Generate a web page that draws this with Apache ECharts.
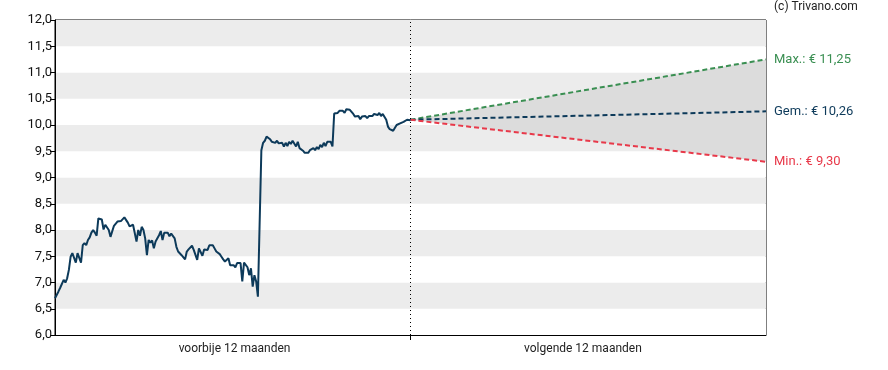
<!DOCTYPE html>
<html>
<head>
<meta charset="utf-8">
<script src="https://cdn.jsdelivr.net/npm/echarts@6/dist/echarts.min.js"></script>
<style>
html,body{margin:0;padding:0;background:#fff;}
#chart{width:888px;height:370px;}
</style>
</head>
<body>
<div id="chart"></div>
<script>
// ---- data ----
const periodLabels = ['voorbije 12 maanden', 'volgende 12 maanden'];
const pastPrices = [
  6.70, 6.73, 6.83, 6.90, 6.93, 7.05, 7.00, 7.08, 7.24, 7.49,
  7.56, 7.56, 7.38, 7.56, 7.55, 7.38, 7.71, 7.75, 7.71, 7.81,
  7.86, 7.95, 8.00, 7.95, 7.89, 8.22, 8.22, 8.20, 8.01, 8.10,
  8.07, 8.00, 7.87, 7.88, 8.08, 8.07, 8.16, 8.14, 8.17, 8.16,
  8.24, 8.25, 8.14, 8.07, 8.06, 8.10, 7.94, 7.78, 8.00, 7.89,
  8.06, 8.00, 7.84, 7.52, 7.81, 7.76, 7.80, 7.65, 7.78, 7.81,
  7.90, 7.98, 7.81, 7.95, 7.92, 7.95, 7.88, 7.93, 7.92, 7.84,
  7.68, 7.59, 7.62, 7.52, 7.49, 7.44, 7.59, 7.63, 7.61, 7.70,
  7.62, 7.59, 7.43, 7.65, 7.67, 7.51, 7.63, 7.65, 7.62, 7.71,
  7.68, 7.71, 7.65, 7.59, 7.61, 7.54, 7.49, 7.44, 7.40, 7.37,
  7.46, 7.33, 7.30, 7.33, 7.29, 7.37, 7.35, 7.37, 7.02, 7.38,
  7.40, 7.29, 7.14, 7.27, 6.92, 7.14, 7.02, 6.73, 6.70,
  9.52, 9.66, 9.70, 9.78, 9.77, 9.73, 9.68, 9.71, 9.66, 9.70,
  9.65, 9.62, 9.66, 9.59, 9.66, 9.60, 9.68, 9.64, 9.70, 9.68,
  9.59, 9.68, 9.56, 9.54, 9.51, 9.47, 9.45, 9.47, 9.52, 9.54,
  9.56, 9.52, 9.58, 9.54, 9.62, 9.58, 9.66, 9.60, 9.68, 9.65,
  9.68, 9.59,
  10.22, 10.25, 10.23, 10.27, 10.25, 10.27, 10.23, 10.30, 10.32, 10.29,
  10.30, 10.21, 10.16, 10.13, 10.17, 10.11, 10.16, 10.15, 10.17, 10.13,
  10.17, 10.19, 10.17, 10.21, 10.22, 10.19, 10.23, 10.17, 10.21, 10.19,
  10.10, 9.97, 9.92, 9.94, 9.89, 9.92, 10.00, 10.02, 10.03, 10.04,
  10.06, 10.08, 10.10, 10.09, 10.09
];
const forecastStart = 10.10;
const forecastMax = 11.25;
const forecastAvg = 10.26;
const forecastMin = 9.30;
const yTickMin = 6, yTickMax = 12, yTickStep = 0.5;

// ---- build ----
const fmt = v => v.toFixed(2).replace('.', ',');
const n = pastPrices.length;
const pastData = pastPrices.map((v, i) => [i / (n - 1), v]);
const lineTo = end => [[1, forecastStart], [2, end]];

const chart = echarts.init(document.getElementById('chart'), null, {renderer: 'canvas'});
const FONT = 'Roboto';
const dashSeries = (name, end, color, label) => ({
  name, type: 'line', data: lineTo(end), symbol: 'none', z: 4,
  lineStyle: {color, width: 2, type: [5, 3]},
  endLabel: {show: true, formatter: label + ': € ' + fmt(end), color, fontFamily: FONT, fontSize: 13, distance: 8},
  animation: false
});

chart.setOption({
  animation: false,
  title: {
    text: '(c) Trivano.com', left: 774, top: 1, padding: 0,
    textStyle: {fontFamily: FONT, fontSize: 12, fontWeight: 'normal', color: '#222'}
  },
  grid: {left: 55, right: 122, top: 20, bottom: 35, show: true, borderColor: '#000', borderWidth: 1, backgroundColor: 'transparent'},
  xAxis: {
    type: 'value', min: 0, max: 2,
    axisLine: {show: true, lineStyle: {color: '#000', width: 1}},
    axisTick: {show: true, customValues: [1], length: 5, lineStyle: {color: '#000'}},
    axisLabel: {
      show: true, customValues: [0.505, 1.485], margin: 8,
      formatter: v => v < 1 ? periodLabels[0] : periodLabels[1],
      fontFamily: FONT, fontSize: 12, color: '#222'
    },
    splitLine: {show: false}
  },
  yAxis: {
    type: 'value', min: yTickMin, max: yTickMax, interval: yTickStep,
    axisLine: {show: true, lineStyle: {color: '#000', width: 1}},
    axisTick: {show: true, length: 5, lineStyle: {color: '#000'}},
    axisLabel: {formatter: v => v.toFixed(1).replace('.', ','), fontFamily: FONT, fontSize: 13, color: '#111', margin: 3},
    splitLine: {show: false},
    splitArea: {show: true, areaStyle: {color: ['#ffffff', '#ececec']}}
  },
  series: [
    {
      name: 'band', type: 'custom', silent: true, z: 1,
      data: [[1, forecastStart, 2, forecastMax, forecastMin]],
      encode: {x: [0, 2], y: [1, 3, 4]},
      renderItem: (params, api) => {
        const p0 = api.coord([api.value(0), api.value(1)]);
        const p1 = api.coord([api.value(2), api.value(3)]);
        const p2 = api.coord([api.value(2), api.value(4)]);
        return {type: 'polygon', shape: {points: [p0, p1, p2]}, style: {fill: '#dcdcdc'}};
      }
    },
    {
      name: 'koers', type: 'line', data: pastData, symbol: 'none', z: 5,
      lineStyle: {color: '#0d3a5a', width: 2},
      markLine: {
        silent: true, symbol: 'none', label: {show: false},
        lineStyle: {color: '#000', width: 1, type: [1, 3]},
        data: [{xAxis: 1}]
      }
    },
    dashSeries('max', forecastMax, '#3a8f52', 'Max.'),
    dashSeries('gem', forecastAvg, '#0d3a5a', 'Gem.'),
    dashSeries('min', forecastMin, '#e8394a', 'Min.')
  ]
});
</script>
</body>
</html>
